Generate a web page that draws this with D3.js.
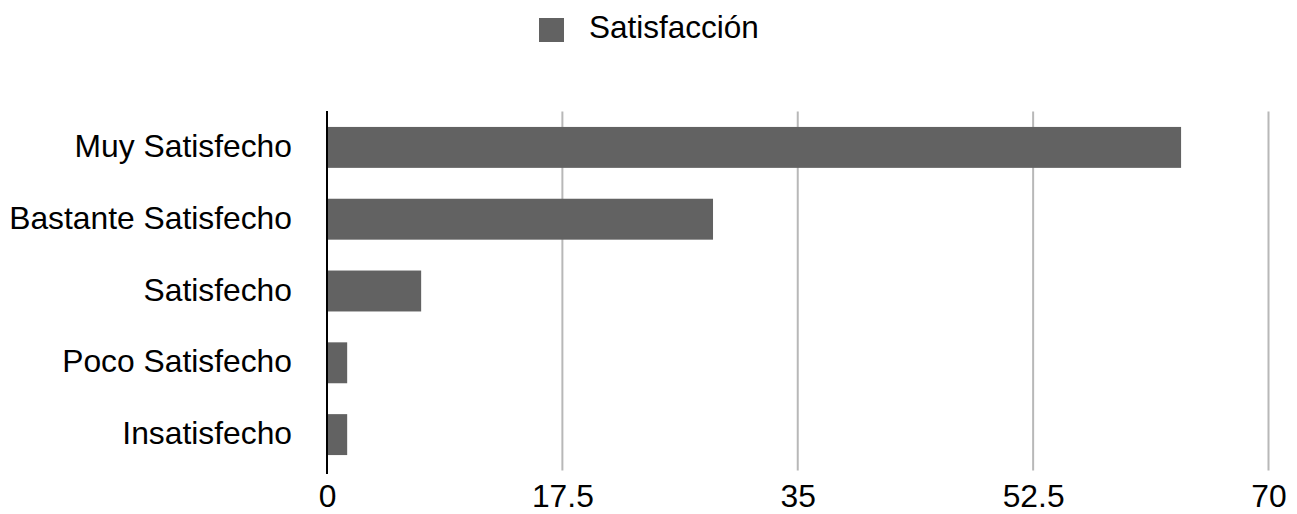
<!DOCTYPE html>
<html>
<head>
<meta charset="utf-8">
<script src="https://cdn.jsdelivr.net/npm/d3@7"></script>
<style>
  html, body { margin: 0; padding: 0; background: #fff; }
  svg { display: block; font-family: "Liberation Sans", Arial, Helvetica, sans-serif; }
</style>
</head>
<body>
<svg id="chart" width="1297" height="514"></svg>
<script>
const categories = ["Muy Satisfecho", "Bastante Satisfecho", "Satisfecho", "Poco Satisfecho", "Insatisfecho"];
const values = [63.5, 28.7, 7.0, 1.5, 1.5];
const tickValues = [0, 17.5, 35, 52.5, 70];
const tickLabels = ["0", "17.5", "35", "52.5", "70"];
const seriesName = "Satisfacción";

const svg = d3.select("#chart");
const barColor = "#626262";
const fontSize = 31.8;

const x = d3.scaleLinear().domain([0, 70]).range([327, 1268.5]);
const y = d3.scaleBand().domain(categories).range([111.5, 470.5]).paddingInner(0.43).paddingOuter(0.215);

// gridlines
svg.append("g")
  .selectAll("line")
  .data(tickValues.filter(d => d !== 0))
  .join("line")
  .attr("x1", d => x(d)).attr("x2", d => x(d))
  .attr("y1", 111.5).attr("y2", 470.5)
  .attr("stroke", "#b8b8b8")
  .attr("stroke-width", 2);

// bars
svg.append("g")
  .selectAll("rect")
  .data(categories)
  .join("rect")
  .attr("x", x(0))
  .attr("y", d => y(d))
  .attr("width", (d, i) => x(values[i]) - x(0))
  .attr("height", y.bandwidth())
  .attr("fill", barColor);

// zero axis line
svg.append("line")
  .attr("x1", x(0)).attr("x2", x(0))
  .attr("y1", 111).attr("y2", 474)
  .attr("stroke", "#000")
  .attr("stroke-width", 2);

// x tick labels
const xAxis = d3.axisBottom(x).tickValues(tickValues).tickFormat((d, i) => tickLabels[i]).tickSize(0).tickPadding(0);
const gx = svg.append("g").call(xAxis);
gx.select(".domain").remove();
gx.selectAll("text")
  .attr("y", 507)
  .attr("dy", null)
  .attr("fill", "#000")
  .style("font-size", fontSize + "px")
  .style("font-family", "'Liberation Sans', Arial, sans-serif");

// y labels
const yAxis = d3.axisLeft(y).tickSize(0).tickPadding(0);
const gy = svg.append("g").attr("transform", "translate(292,0)").call(yAxis);
gy.select(".domain").remove();
gy.selectAll("text")
  .attr("x", 0)
  .attr("dy", "0.3em")
  .attr("fill", "#000")
  .style("font-size", fontSize + "px")
  .style("font-family", "'Liberation Sans', Arial, sans-serif");

// legend
const legend = svg.append("g");
legend.append("rect")
  .attr("x", 539).attr("y", 18).attr("width", 25).attr("height", 24)
  .attr("fill", barColor);
legend.append("text")
  .attr("x", 589).attr("y", 38)
  .attr("fill", "#000")
  .style("font-size", "31.5px")
  .text(seriesName);
</script>
</body>
</html>
